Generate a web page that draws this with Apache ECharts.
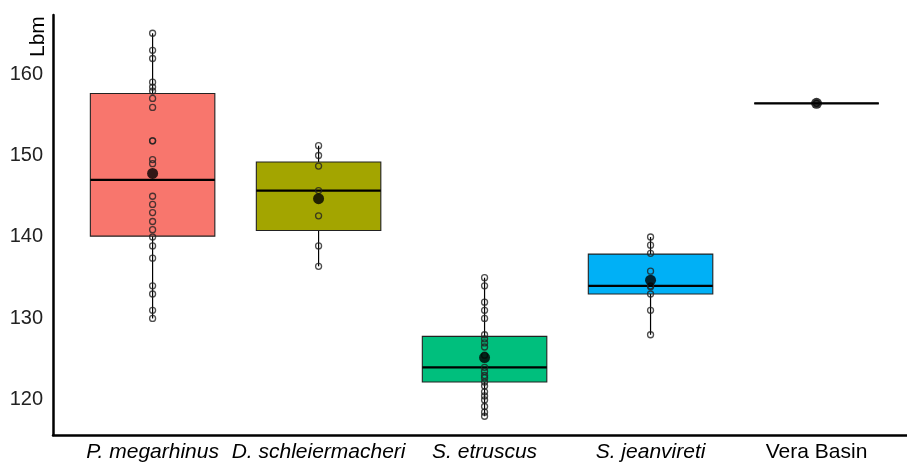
<!DOCTYPE html>
<html>
<head>
<meta charset="utf-8">
<script src="https://cdn.jsdelivr.net/npm/echarts@6/dist/echarts.min.js"></script>
<style>
  html, body { margin: 0; padding: 0; background: #fff; }
  #main { width: 907px; height: 463px; }
</style>
</head>
<body>
<div id="main"></div>
<script>
// groups on the x axis
var categories = ['P. megarhinus', 'D. schleiermacheri', 'S. etruscus', 'S. jeanvireti', 'Vera Basin'];
var italicNames = [true, true, true, true, false];
var boxColors = ['#F8766D', '#A3A500', '#00BF7D', '#00B0F6', '#E76BF3'];

// box stats
var lowWhisker = [130.0, 136.4, 118.0, 128.0, 156.4];
var q1 = [140.1, 140.8, 122.2, 133.0, 156.4];
var median = [147.0, 145.7, 124.0, 134.0, 156.4];
var q3 = [157.6, 149.2, 127.8, 137.9, 156.4];
var highWhisker = [165.0, 151.2, 135.0, 140.0, 156.4];
var means = [147.8, 144.7, 125.2, 134.7, 156.4];

// individual observations
var ptsMeg = [165.0, 162.9, 161.9, 159.0, 158.4, 157.9, 157.0, 155.9, 151.8, 151.8, 149.5, 149.0,
  145.0, 144.0, 143.0, 141.9, 140.9, 140.0, 138.9, 137.4, 134.0, 133.0, 131.0, 130.0];
var ptsSchl = [151.2, 150.0, 148.7, 145.7, 142.6, 138.9, 136.4];
var ptsEtr = [135.0, 134.0, 132.0, 131.0, 130.0, 128.0, 127.5, 127.0, 126.5, 125.5, 124.0, 123.5,
  123.0, 122.7, 122.2, 121.7, 121.0, 120.5, 120.0, 119.2, 118.5, 118.0];
var ptsJean = [140.0, 139.0, 138.0, 135.8, 134.0, 133.9, 133.0, 131.0, 128.0];
var ptsVera = [156.4];

var yTicks = [120, 130, 140, 150, 160];

var chart = echarts.init(document.getElementById('main'), null, { renderer: 'canvas' });

var boxData = categories.map(function (c, i) {
  return [i + 1, lowWhisker[i], q1[i], median[i], q3[i], highWhisker[i]];
});

var pointData = [];
[ptsMeg, ptsSchl, ptsEtr, ptsJean, ptsVera].forEach(function (arr, i) {
  arr.forEach(function (v) { pointData.push([i + 1, v]); });
});

var meanData = means.map(function (v, i) { return [i + 1, v]; });

function renderBox(params, api) {
  var x = api.value(0);
  var idx = params.dataIndex;
  var half = 0.375;
  var pLow = api.coord([x, api.value(1)]);
  var pQ1 = api.coord([x, api.value(2)]);
  var pMed = api.coord([x, api.value(3)]);
  var pQ3 = api.coord([x, api.value(4)]);
  var pHigh = api.coord([x, api.value(5)]);
  var left = api.coord([x - half, api.value(3)])[0];
  var right = api.coord([x + half, api.value(3)])[0];
  return {
    type: 'group',
    children: [
      { type: 'line', shape: { x1: pLow[0], y1: pLow[1], x2: pQ1[0], y2: pQ1[1] },
        style: { stroke: '#000', lineWidth: 1.2 } },
      { type: 'line', shape: { x1: pQ3[0], y1: pQ3[1], x2: pHigh[0], y2: pHigh[1] },
        style: { stroke: '#000', lineWidth: 1.2 } },
      { type: 'rect', shape: { x: left, y: pQ3[1], width: right - left, height: pQ1[1] - pQ3[1] },
        style: { fill: boxColors[idx], stroke: '#222', lineWidth: 1.1 } },
      { type: 'line', shape: { x1: left, y1: pMed[1], x2: right, y2: pMed[1] },
        style: { stroke: '#000', lineWidth: 2.2 } }
    ]
  };
}

var option = {
  animation: false,
  backgroundColor: '#fff',
  // original plot area is cut off at the right edge, so x max stops short of 5.6
  grid: { left: 53, right: 0, top: 15, bottom: 28, containLabel: false, outerBoundsMode: 'none' },
  xAxis: {
    type: 'value',
    min: 0.4,
    max: 5.545,
    splitLine: { show: false },
    axisTick: { show: false },
    axisLine: { show: true, onZero: false, lineStyle: { color: '#000', width: 2.5 } },
    axisLabel: {
      customValues: [1, 2, 3, 4, 5],
      margin: 7,
      formatter: function (v) {
        var i = Math.round(v) - 1;
        return italicNames[i] ? '{i|' + categories[i] + '}' : '{n|' + categories[i] + '}';
      },
      rich: {
        i: { fontFamily: 'Liberation Sans', fontSize: 21, fontStyle: 'italic', color: '#000' },
        n: { fontFamily: 'Liberation Sans', fontSize: 21, color: '#000' }
      }
    }
  },
  yAxis: {
    type: 'value',
    min: 115.7,
    max: 167.24,
    splitLine: { show: false },
    axisTick: { show: false },
    axisLine: { show: true, onZero: false, lineStyle: { color: '#000', width: 2.5 } },
    axisLabel: {
      customValues: yTicks,
      margin: 10,
      fontFamily: 'Liberation Sans',
      fontSize: 20,
      color: '#222'
    }
  },
  graphic: [{
    type: 'text',
    x: 28,
    y: 57,
    rotation: Math.PI / 2,
    style: {
      text: 'Lbm',
      fontFamily: 'Liberation Sans',
      fontSize: 21,
      fill: '#000',
      align: 'left',
      verticalAlign: 'top'
    }
  }],
  series: [
    {
      type: 'custom',
      renderItem: renderBox,
      data: boxData,
      encode: { x: 0, y: [1, 2, 3, 4, 5] },
      z: 1
    },
    {
      type: 'scatter',
      data: pointData,
      symbol: 'circle',
      symbolSize: 6,
      itemStyle: { color: 'rgba(0,0,0,0)', borderColor: '#222', borderWidth: 1.3 },
      z: 2
    },
    {
      type: 'scatter',
      data: meanData,
      symbol: 'circle',
      symbolSize: 11,
      itemStyle: { color: '#000' },
      z: 3
    }
  ]
};

chart.setOption(option);
</script>
</body>
</html>
